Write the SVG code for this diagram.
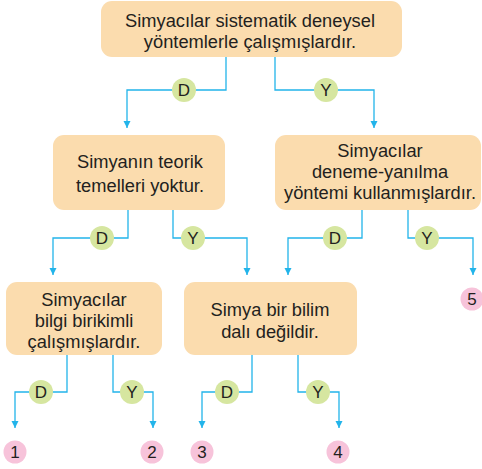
<svg xmlns="http://www.w3.org/2000/svg" width="482" height="469" viewBox="0 0 482 469">
<style>
.box{fill:#fbdcae}
.t{font-family:"Liberation Sans",Arial,sans-serif;font-size:18.3px;fill:#231f20;text-anchor:middle}
.c{fill:none;stroke:#22b4ea;stroke-width:1.3}
.g{fill:#d6e6a0}
.p{fill:#f7c3da}
.l{font-family:"Liberation Sans",Arial,sans-serif;font-size:17px;fill:#231f20;text-anchor:middle}
</style>
<defs>
<marker id="ar" markerWidth="8" markerHeight="8" refX="7" refY="4" orient="auto" markerUnits="userSpaceOnUse" viewBox="0 0 8 8">
<path d="M0,0.5 L7,4 L0,7.5 Z" fill="#22b4ea"/>
</marker>
</defs>
<g id="connectors">
<path class="c" d="M226,57 V90 H127 V128" marker-end="url(#ar)"/>
<path class="c" d="M275,57 V90 H374 V128" marker-end="url(#ar)"/>
<path class="c" d="M128,210 V238 H53 V275" marker-end="url(#ar)"/>
<path class="c" d="M173,210 V238 H247 V275" marker-end="url(#ar)"/>
<path class="c" d="M362,210 V238 H288 V275" marker-end="url(#ar)"/>
<path class="c" d="M408,210 V238 H473 V275" marker-end="url(#ar)"/>
<path class="c" d="M67,355 V392 H15 V428" marker-end="url(#ar)"/>
<path class="c" d="M113,355 V392 H153 V428" marker-end="url(#ar)"/>
<path class="c" d="M252,355 V392 H202 V428" marker-end="url(#ar)"/>
<path class="c" d="M298,355 V392 H339 V428" marker-end="url(#ar)"/>
</g>
<g id="n0"><rect class="box" x="101" y="1" width="301" height="56" rx="11"/>
<text class="t" x="250" y="27">Simyacılar sistematik deneysel</text>
<text class="t" x="250" y="48">yöntemlerle çalışmışlardır.</text></g>
<g id="n1"><rect class="box" x="53" y="135" width="172" height="75" rx="11"/>
<text class="t" x="140" y="168">Simyanın teorik</text>
<text class="t" x="140" y="192">temelleri yoktur.</text></g>
<g id="n2"><rect class="box" x="275" y="135" width="206" height="75" rx="11"/>
<text class="t" x="380" y="157">Simyacılar</text>
<text class="t" x="380" y="178">deneme-yanılma</text>
<text class="t" x="380" y="199">yöntemi kullanmışlardır.</text></g>
<g id="n3"><rect class="box" x="6" y="282" width="156" height="73" rx="11"/>
<text class="t" x="84" y="306">Simyacılar</text>
<text class="t" x="84" y="327">bilgi birikimli</text>
<text class="t" x="84" y="348">çalışmışlardır.</text></g>
<g id="n4"><rect class="box" x="184" y="282" width="173" height="73" rx="11"/>
<text class="t" x="270" y="316">Simya bir bilim</text>
<text class="t" x="270" y="338">dalı değildir.</text></g>
<g id="labels">
<circle class="g" cx="184" cy="90" r="12"/><text class="l" x="184" y="96">D</text>
<circle class="g" cx="326" cy="90" r="12"/><text class="l" x="326" y="96">Y</text>
<circle class="g" cx="102" cy="238" r="12"/><text class="l" x="102" y="244">D</text>
<circle class="g" cx="193" cy="238" r="12"/><text class="l" x="193" y="244">Y</text>
<circle class="g" cx="335" cy="238" r="12"/><text class="l" x="335" y="244">D</text>
<circle class="g" cx="427" cy="238" r="12"/><text class="l" x="427" y="244">Y</text>
<circle class="g" cx="41" cy="392" r="12"/><text class="l" x="41" y="398">D</text>
<circle class="g" cx="132" cy="392" r="12"/><text class="l" x="132" y="398">Y</text>
<circle class="g" cx="227" cy="392" r="12"/><text class="l" x="227" y="398">D</text>
<circle class="g" cx="318" cy="392" r="12"/><text class="l" x="318" y="398">Y</text>
</g>
<g id="n5"><circle class="p" cx="15" cy="452" r="11.5"/><text class="l" x="15" y="458">1</text></g>
<g id="n6"><circle class="p" cx="152" cy="452" r="11.5"/><text class="l" x="152" y="458">2</text></g>
<g id="n7"><circle class="p" cx="202" cy="452" r="11.5"/><text class="l" x="202" y="458">3</text></g>
<g id="n8"><circle class="p" cx="338" cy="452" r="11.5"/><text class="l" x="338" y="458">4</text></g>
<g id="n9"><circle class="p" cx="472" cy="299" r="11.5"/><text class="l" x="472" y="305">5</text></g>
</svg>
